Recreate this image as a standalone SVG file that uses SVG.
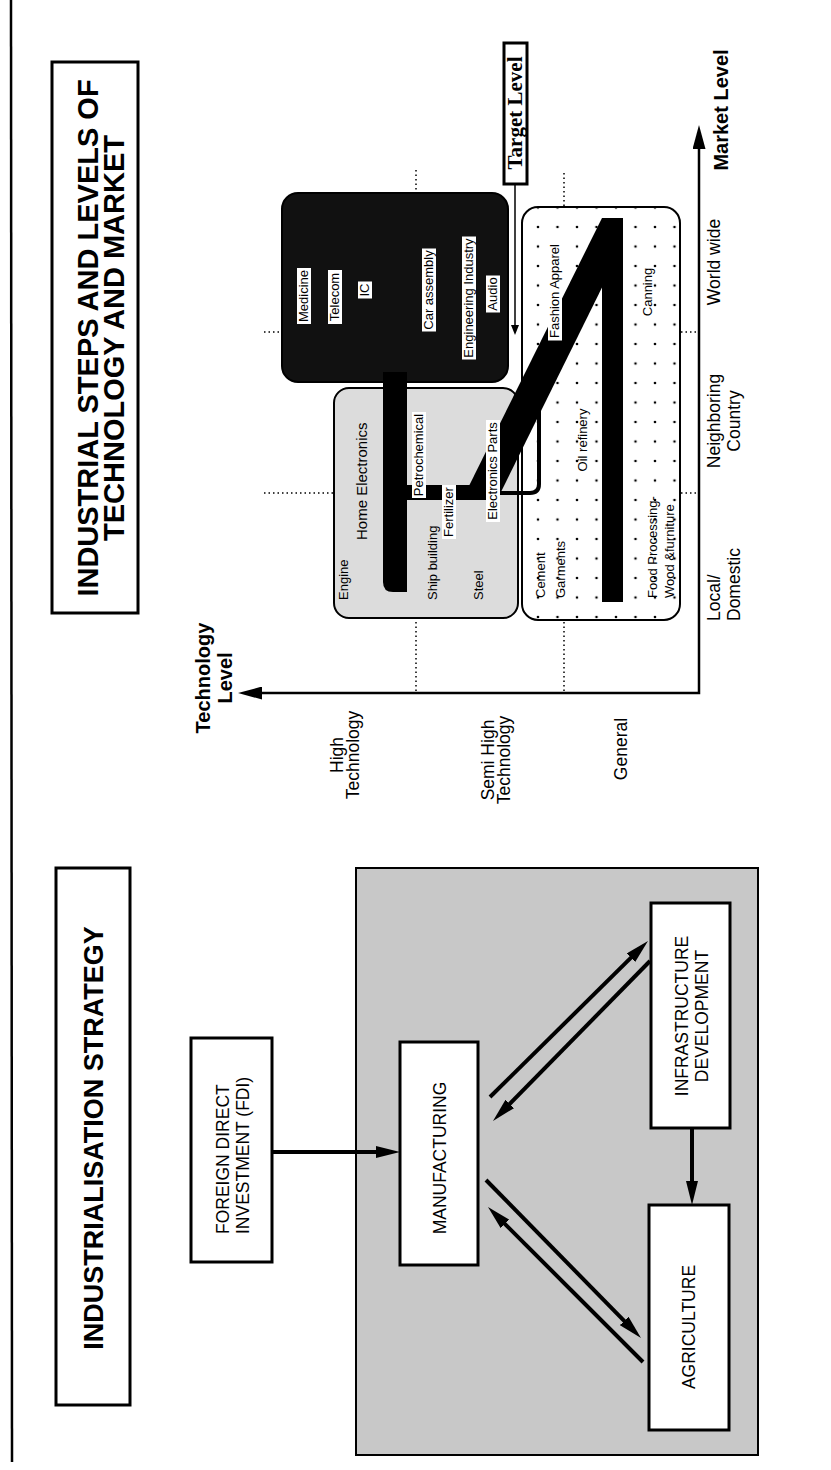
<svg xmlns="http://www.w3.org/2000/svg" width="831" height="1470" viewBox="0 0 831 1470">
<style>
text{font-family:"Liberation Sans",Arial,sans-serif;fill:#000}
.ttl{font-weight:bold;font-size:29px}
.ttl2{font-weight:bold;font-size:27px}
.box{font-size:17.5px}
.ax{font-weight:bold;font-size:20px}
.lv{font-size:17.5px}
.sm{font-size:13px}
.hm{font-size:15px}
.tg{font-family:"Liberation Serif","Times New Roman",serif;font-weight:bold;font-size:21px}
.frame{fill:#fff;stroke:#000;stroke-width:3}
.wl{fill:#fff}
.dot{stroke:#000;stroke-width:1.5;stroke-dasharray:1.5 3;fill:none}
.arr{stroke:#000;stroke-width:4;fill:none;marker-end:url(#ah)}
.blk{fill:#000}
</style>
<defs>
<marker id="ah" viewBox="0 0 24 12" refX="8" refY="6" markerWidth="24" markerHeight="12" markerUnits="userSpaceOnUse" orient="auto"><path d="M0,0L24,6L0,12z"/></marker>
<marker id="ax" viewBox="0 0 24 13" refX="6" refY="6.5" markerWidth="24" markerHeight="13" markerUnits="userSpaceOnUse" orient="auto-start-reverse"><path d="M0,0L24,6.5L0,13z"/></marker>
<marker id="sa" viewBox="0 0 10 8" refX="2" refY="4" markerWidth="10" markerHeight="8" markerUnits="userSpaceOnUse" orient="auto"><path d="M0,0L10,4L0,8z"/></marker>
<pattern id="dots" patternUnits="userSpaceOnUse" x="528.25" y="217.25" width="19.5" height="19.5"><circle cx="9.75" cy="9.75" r="1.3" fill="#000"/></pattern>
</defs>

<rect width="831" height="1470" fill="#fff"/>
<line x1="11" y1="0" x2="12" y2="1462" stroke="#000" stroke-width="2.5"/>

<!-- ===== Right panel: steps chart ===== -->
<g id="title-steps">
<rect class="frame" x="52" y="62" width="86" height="551"/>
<text class="ttl" transform="translate(98 338) rotate(-90)" text-anchor="middle">INDUSTRIAL STEPS AND LEVELS OF</text>
<text class="ttl" transform="translate(124 338) rotate(-90)" text-anchor="middle">TECHNOLOGY AND MARKET</text>
</g>

<g id="gridlines">
<path class="dot" d="M416,170V193M416,622V692M564,173V207M564,622V692M264,332H282M681,332H698M264,493H334M681,493H698"/>
</g>

<g id="general-box">
<rect x="522" y="207" width="158" height="413" rx="16" fill="#fff" stroke="#000" stroke-width="2"/>
<rect x="522" y="207" width="158" height="413" rx="16" fill="url(#dots)"/>
</g>

<g id="semihigh-box">
<rect x="334" y="388" width="184" height="230" rx="15" fill="#dcdcdc" stroke="#000" stroke-width="2"/>
</g>

<g id="high-box">
<rect x="282" y="193" width="226" height="189" rx="16" fill="#111" stroke="#000" stroke-width="2"/>
</g>

<g id="step-band">
<rect class="blk" x="602" y="218" width="21" height="384"/>
<polygon class="blk" points="602,218 623,218 623,245 497,500 462,500"/>
<rect class="blk" x="405" y="485" width="65" height="15"/>
<path class="blk" d="M383,372H407V592H393Q383,592 383,582Z"/>
</g>

<g id="high-labels">
<rect class="wl" x="297" y="268" width="14" height="56"/>
<text class="sm" transform="translate(308 296) rotate(-90)" text-anchor="middle">Medicine</text>
<rect class="wl" x="328" y="270" width="14" height="54"/>
<text class="sm" transform="translate(339 297) rotate(-90)" text-anchor="middle">Telecom</text>
<rect class="wl" x="358" y="281.5" width="14" height="17"/>
<text class="sm" transform="translate(369 290) rotate(-90)" text-anchor="middle">IC</text>
<rect class="wl" x="422" y="248.5" width="14" height="83"/>
<text class="sm" transform="translate(433 290) rotate(-90)" text-anchor="middle">Car assembly</text>
<rect class="wl" x="462" y="236.5" width="14" height="123"/>
<text class="sm" transform="translate(473 298) rotate(-90)" text-anchor="middle">Engineering Industry</text>
<rect class="wl" x="486" y="275.5" width="14" height="37"/>
<text class="sm" transform="translate(497 294) rotate(-90)" text-anchor="middle">Audio</text>
</g>

<g id="semihigh-labels">
<text class="sm" transform="translate(348 600) rotate(-90)">Engine</text>
<text class="hm" transform="translate(367 540) rotate(-90)">Home Electronics</text>
<rect class="wl" x="412" y="412" width="14" height="86"/>
<text class="sm" transform="translate(423 455) rotate(-90)" text-anchor="middle">Petrochemical</text>
<text class="sm" transform="translate(437 600) rotate(-90)">Ship building</text>
<rect class="wl" x="442" y="485" width="14" height="54"/>
<text class="sm" transform="translate(453 512) rotate(-90)" text-anchor="middle">Fertilizer</text>
<text class="sm" transform="translate(483 600) rotate(-90)">Steel</text>
<rect class="wl" x="486" y="420" width="14" height="102"/>
<text class="sm" transform="translate(497 471) rotate(-90)" text-anchor="middle">Electronics Parts</text>
</g>

<g id="general-labels">
<rect class="wl" x="548" y="241.5" width="14" height="99"/>
<text class="sm" transform="translate(559 291) rotate(-90)" text-anchor="middle">Fashion Apparel</text>
<text class="sm" transform="translate(545 598) rotate(-90)">Cement</text>
<text class="sm" transform="translate(565 598) rotate(-90)">Garments</text>
<text class="sm" transform="translate(587 440) rotate(-90)" text-anchor="middle">Oil refinery</text>
<text class="sm" transform="translate(657 598) rotate(-90)">Food Processing-</text>
<text class="sm" transform="translate(674 598) rotate(-90)">Wood &amp;furniture</text>
<text class="sm" transform="translate(652 292) rotate(-90)" text-anchor="middle">Canning</text>
</g>

<g id="target-level">
<rect x="504" y="43" width="23" height="141" fill="#fff" stroke="#000" stroke-width="3"/>
<text class="tg" transform="translate(522 113) rotate(-90)" text-anchor="middle">Target Level</text>
</g>

<g id="axis-labels">
<text class="ax" transform="translate(210 678) rotate(-90)" text-anchor="middle">Technology</text>
<text class="ax" transform="translate(232 678) rotate(-90)" text-anchor="middle">Level</text>
<text class="lv" transform="translate(343 755) rotate(-90)" text-anchor="middle">High</text>
<text class="lv" transform="translate(359 755) rotate(-90)" text-anchor="middle">Technology</text>
<text class="lv" transform="translate(494 760) rotate(-90)" text-anchor="middle">Semi High</text>
<text class="lv" transform="translate(510 760) rotate(-90)" text-anchor="middle">Technology</text>
<text class="lv" transform="translate(627 749) rotate(-90)" text-anchor="middle">General</text>
<text class="lv" transform="translate(720 621) rotate(-90)">Local/</text>
<text class="lv" transform="translate(740 621) rotate(-90)">Domestic</text>
<text class="lv" transform="translate(720 421) rotate(-90)" text-anchor="middle">Neighboring</text>
<text class="lv" transform="translate(740 421) rotate(-90)" text-anchor="middle">Country</text>
<text class="lv" transform="translate(720 262) rotate(-90)" text-anchor="middle">World wide</text>
<text class="ax" transform="translate(728 110) rotate(-90)" text-anchor="middle">Market Level</text>
</g>

<g id="chart-connectors">
<path d="M256,693H699V143" fill="none" stroke="#000" stroke-width="2.5" marker-start="url(#ax)" marker-end="url(#ax)"/>
<line x1="515" y1="184" x2="515" y2="327" stroke="#000" stroke-width="1.5" marker-end="url(#sa)"/>
<path d="M500,493H530Q539,493 539,484V383" fill="none" stroke="#000" stroke-width="4"/>
</g>

<!-- ===== Left panel: industrialisation strategy ===== -->
<g id="title-strategy">
<rect class="frame" x="56" y="868" width="74" height="537"/>
<text class="ttl2" transform="translate(103 1138) rotate(-90)" text-anchor="middle">INDUSTRIALISATION STRATEGY</text>
</g>

<g id="strategy-area">
<rect x="356" y="868" width="402" height="587" fill="#c8c8c8" stroke="#000" stroke-width="2"/>
</g>

<g id="fdi">
<rect class="frame" x="191" y="1038" width="81" height="224"/>
<text class="box" transform="translate(229 1234) rotate(-90)">FOREIGN DIRECT</text>
<text class="box" transform="translate(249 1234) rotate(-90)">INVESTMENT (FDI)</text>
</g>

<g id="manufacturing">
<rect class="frame" x="400" y="1042" width="78" height="223"/>
<text class="box" transform="translate(446 1158) rotate(-90)" text-anchor="middle">MANUFACTURING</text>
</g>

<g id="infrastructure">
<rect class="frame" x="651" y="903" width="79" height="225"/>
<text class="box" transform="translate(688 1016) rotate(-90)" text-anchor="middle">INFRASTRUCTURE</text>
<text class="box" transform="translate(708 1016) rotate(-90)" text-anchor="middle">DEVELOPMENT</text>
</g>

<g id="agriculture">
<rect class="frame" x="649" y="1205" width="80" height="225"/>
<text class="box" transform="translate(695 1327) rotate(-90)" text-anchor="middle">AGRICULTURE</text>
</g>

<g id="strategy-connectors">
<line class="arr" x1="272" y1="1152" x2="384" y2="1152"/>
<line class="arr" x1="692" y1="1128" x2="692" y2="1189"/>
<line class="arr" x1="490" y1="1097" x2="636.6" y2="952.2"/>
<line class="arr" x1="650" y1="961" x2="504.2" y2="1109.6"/>
<line class="arr" x1="486" y1="1180" x2="629.8" y2="1326.6"/>
<line class="arr" x1="643" y1="1362" x2="499.3" y2="1218.3"/>
</g>
</svg>
